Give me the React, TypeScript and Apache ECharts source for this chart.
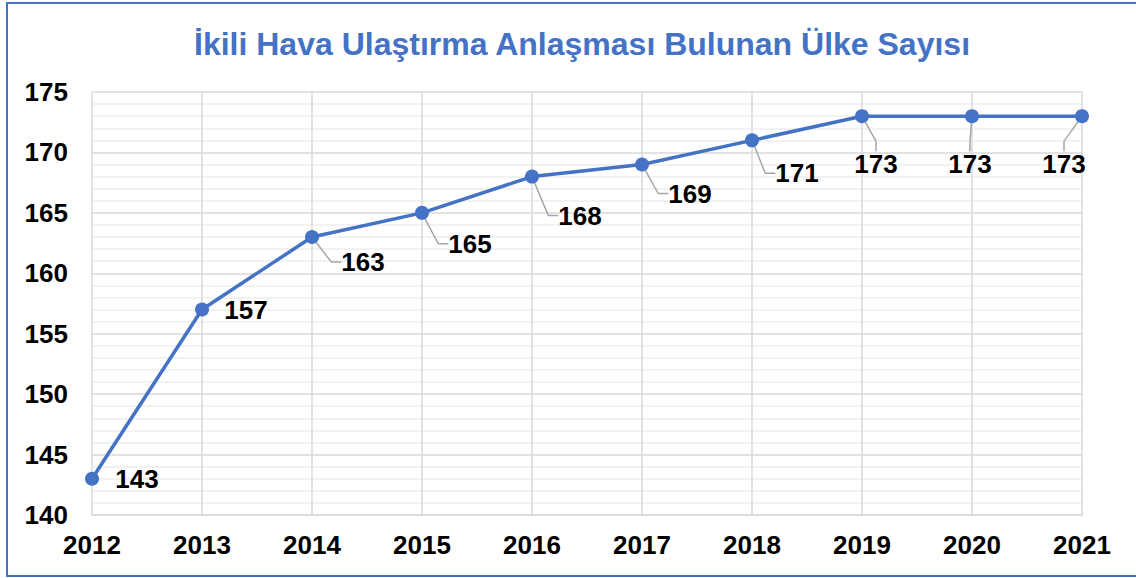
import React, { useEffect, useRef } from "react";
import * as echarts from "echarts";

const titleText = "İkili Hava Ulaştırma Anlaşması Bulunan Ülke Sayısı";
const years = ["2012", "2013", "2014", "2015", "2016", "2017", "2018", "2019", "2020", "2021"];
const countries = [143, 157, 163, 165, 168, 169, 171, 173, 173, 173];
const yMin = 140;
const yMax = 175;
const yStep = 5;

// label layout offsets (px) relative to each point
const labelDx = [45, 44, 51, 48, 48, 48, 45, 14, -2, -18];
const labelDy = [0, 0, 25, 31, 39, 29, 33, 48, 48, 48];
const showLeader = [false, false, true, true, true, true, true, true, true, true];

const BLUE = "#4472C4";
const FONT = "'Liberation Sans', Arial, sans-serif";

export default function App() {
  const ref = useRef<HTMLDivElement>(null);
  useEffect(() => {
    if (!ref.current) return;
    const chart = echarts.init(ref.current, undefined, { renderer: "svg" });
    chart.setOption({
      animation: false,
      backgroundColor: "#ffffff",
      textStyle: { fontFamily: FONT },
      title: {
        text: titleText,
        left: 189,
        top: 23,
        textStyle: { color: BLUE, fontSize: 32, fontWeight: "bold", fontFamily: FONT },
      },
      graphic: [
        {
          type: "rect",
          shape: { x: 7, y: 3, width: 1140, height: 573 },
          style: { fill: "none", stroke: BLUE, lineWidth: 2 },
          silent: true,
          z: 100,
        },
      ],
      grid: { left: 92, right: 54, top: 92, bottom: 63, containLabel: false },
      xAxis: {
        type: "category",
        data: years,
        boundaryGap: false,
        axisLine: { show: true, lineStyle: { color: "#d9d9d9", width: 1.5 } },
        axisTick: { show: false },
        axisLabel: { color: "#000", fontSize: 26, fontWeight: "bold", margin: 17, fontFamily: FONT },
        splitLine: { show: true, lineStyle: { color: "#d9d9d9", width: 1.5 } },
      },
      yAxis: {
        type: "value",
        min: yMin,
        max: yMax,
        interval: yStep,
        axisLine: { show: false },
        axisTick: { show: false },
        axisLabel: { color: "#000", fontSize: 26, fontWeight: "bold", margin: 24, fontFamily: FONT },
        splitLine: { show: true, lineStyle: { color: "#d9d9d9", width: 1.5 } },
        minorTick: { show: false, splitNumber: 5 },
        minorSplitLine: { show: true, lineStyle: { color: "#eeeeee", width: 1.5 } },
      },
      series: [
        {
          type: "line",
          data: countries.map((v, i) => ({
            value: v,
            labelLine: { show: showLeader[i] },
          })),
          symbol: "circle",
          symbolSize: 14,
          itemStyle: { color: BLUE },
          lineStyle: { color: BLUE, width: 3.5 },
          label: {
            show: true,
            position: "inside",
            color: "#000",
            fontSize: 26,
            fontWeight: "bold",
            fontFamily: FONT,
          },
          labelLine: {
            show: true,
            length2: 10,
            lineStyle: { color: "#a6a6a6", width: 1.5 },
          },
          labelLayout: (params: any) => ({
            dx: labelDx[params.dataIndex],
            dy: labelDy[params.dataIndex],
          }),
          z: 5,
        },
      ],
    });
    return () => chart.dispose();
  }, []);
  return (
    <div
      ref={ref}
      style={{ position: "fixed", left: 0, top: 0, width: 1136, height: 578 }}
    />
  );
}
